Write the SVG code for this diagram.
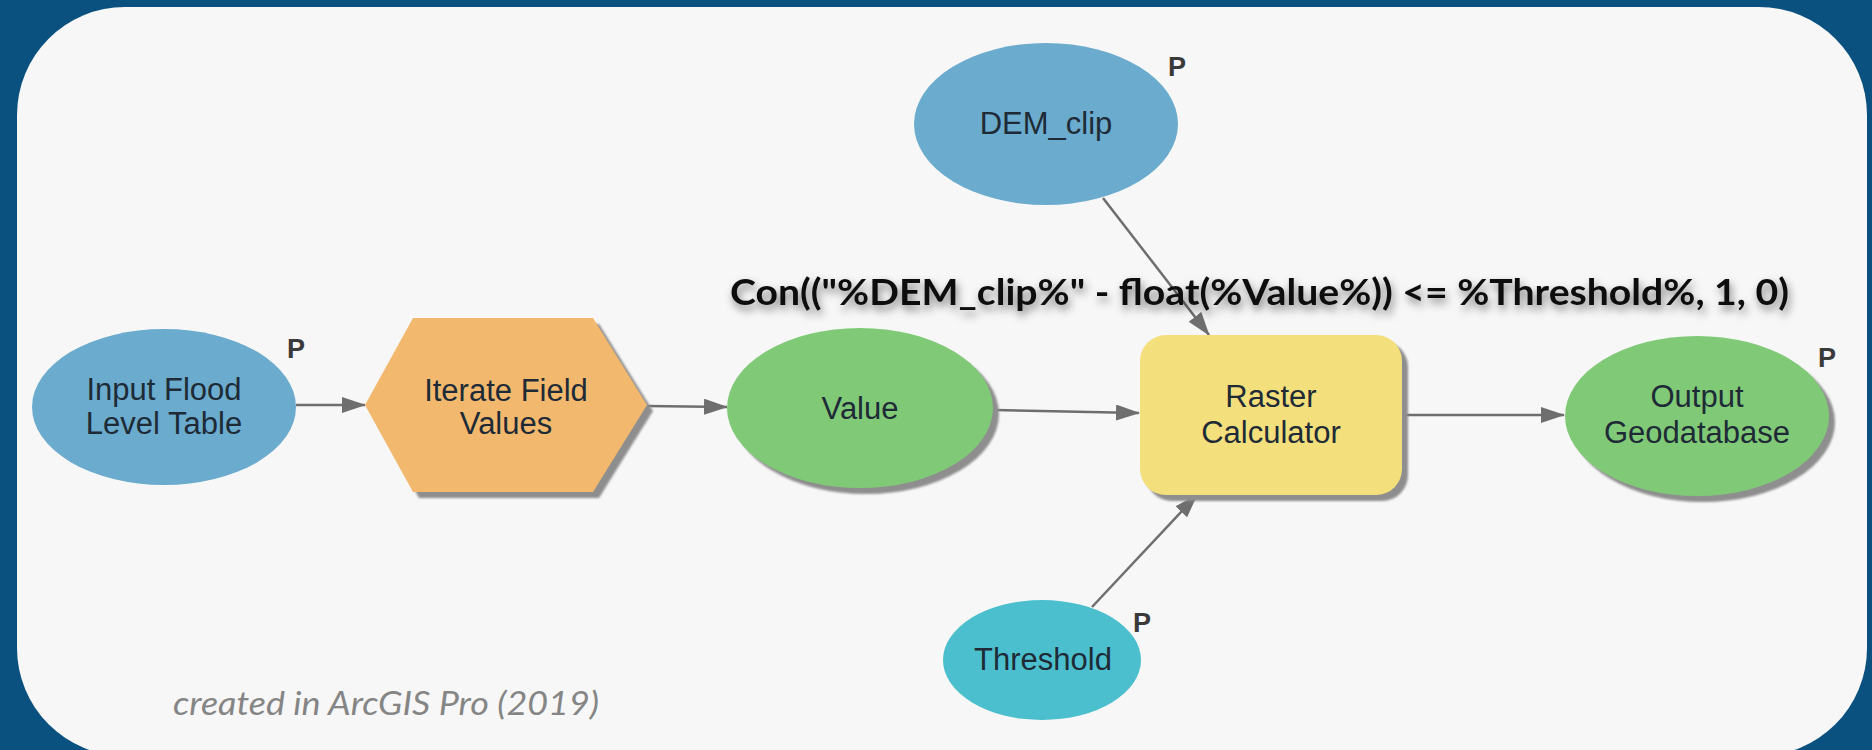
<svg xmlns="http://www.w3.org/2000/svg" width="1872" height="750" viewBox="0 0 1872 750">
  <style>
    .lbl { font-family: "Liberation Sans", Arial, sans-serif; font-size: 31px; fill: #1E2B36; text-anchor: middle; }
    .p { font-family: "Liberation Sans", Arial, sans-serif; font-size: 27px; font-weight: bold; fill: #3A3A3A; }
    .blue { fill: #6BABCE; }
    .teal { fill: #4CBFCE; }
    .green { fill: #80C977; }
    .orange { fill: #F2B86E; }
    .yellow { fill: #F3DF7B; }
    .shadow { fill: #8E8E8E; }
    .conn { stroke: #6E6E6E; stroke-width: 2.5; fill: none; marker-end: url(#arrow); }
  </style>
  <defs>
    <marker id="arrow" markerUnits="userSpaceOnUse" markerWidth="24" markerHeight="16" viewBox="0 0 24 16" refX="23" refY="8" orient="auto">
      <path d="M0,0 L24,8 L0,16 Z" fill="#6E6E6E"/>
    </marker>
    <filter id="tshadow" x="-5%" y="-50%" width="110%" height="220%">
      <feDropShadow dx="2" dy="5" stdDeviation="4" flood-color="#000" flood-opacity="0.5"/>
    </filter>
    <filter id="soft" x="-10%" y="-10%" width="120%" height="120%">
      <feGaussianBlur stdDeviation="1.2"/>
    </filter>
  </defs>

  <rect x="0" y="0" width="1872" height="750" fill="#0B5180"/>
  <rect x="17" y="7" width="1850" height="749" rx="108" ry="108" fill="#F7F7F7"/>

  <g id="connectors">
    <line class="conn" x1="296" y1="405" x2="365" y2="405"/>
    <line class="conn" x1="647" y1="406" x2="727" y2="407"/>
    <line class="conn" x1="994" y1="410" x2="1139" y2="413"/>
    <line class="conn" x1="1103" y1="198" x2="1209" y2="335"/>
    <line class="conn" x1="1092" y1="607" x2="1197" y2="495"/>
    <line class="conn" x1="1402" y1="415" x2="1564" y2="415"/>
  </g>

  <g id="input-flood-level-table">
    <ellipse class="blue" cx="164" cy="407" rx="132" ry="78"/>
    <text class="lbl" x="164" y="400">Input Flood</text>
    <text class="lbl" x="164" y="434">Level Table</text>
    <text class="p" x="287" y="358">P</text>
  </g>

  <g id="iterate-field-values">
    <polygon class="shadow" filter="url(#soft)" points="371,411 419,324 599,324 653,411 599,498 419,498"/>
    <polygon class="orange" points="365,405 413,318 593,318 647,405 593,492 413,492"/>
    <text class="lbl" x="506" y="401">Iterate Field</text>
    <text class="lbl" x="506" y="434">Values</text>
  </g>

  <g id="value">
    <ellipse class="shadow" filter="url(#soft)" cx="866" cy="414" rx="133" ry="80"/>
    <ellipse class="green" cx="860" cy="408" rx="133" ry="80"/>
    <text class="lbl" x="860" y="419">Value</text>
  </g>

  <g id="dem-clip">
    <ellipse class="blue" cx="1046" cy="124" rx="132" ry="81"/>
    <text class="lbl" x="1046" y="134">DEM_clip</text>
    <text class="p" x="1168" y="76">P</text>
  </g>

  <g id="raster-calculator">
    <rect class="shadow" filter="url(#soft)" x="1146" y="341" width="262" height="160" rx="26" ry="26"/>
    <rect class="yellow" x="1140" y="335" width="262" height="160" rx="26" ry="26"/>
    <text class="lbl" x="1271" y="407">Raster</text>
    <text class="lbl" x="1271" y="443">Calculator</text>
  </g>

  <g id="output-geodatabase">
    <ellipse class="shadow" filter="url(#soft)" cx="1703" cy="422" rx="132" ry="80"/>
    <ellipse class="green" cx="1697" cy="416" rx="132" ry="80"/>
    <text class="lbl" x="1697" y="407">Output</text>
    <text class="lbl" x="1697" y="443">Geodatabase</text>
    <text class="p" x="1818" y="367">P</text>
  </g>

  <g id="threshold">
    <ellipse class="teal" cx="1042" cy="660" rx="99" ry="60"/>
    <text class="lbl" x="1043" y="670">Threshold</text>
    <text class="p" x="1133" y="632">P</text>
  </g>

  <g id="expression">
    <text x="730" y="305" textLength="1059" lengthAdjust="spacingAndGlyphs" filter="url(#tshadow)" style="font-family: Lato, 'Open Sans', sans-serif; font-weight: bold; font-size: 36px; fill: #111111;">Con(("%DEM_clip%" - float(%Value%)) &lt;= %Threshold%, 1, 0)</text>
  </g>

  <g id="credit">
    <text x="173" y="715" textLength="426" lengthAdjust="spacingAndGlyphs" style="font-family: Lato, 'Open Sans', sans-serif; font-style: italic; font-size: 32px; fill: #858585;">created in ArcGIS Pro (2019)</text>
  </g>
</svg>
